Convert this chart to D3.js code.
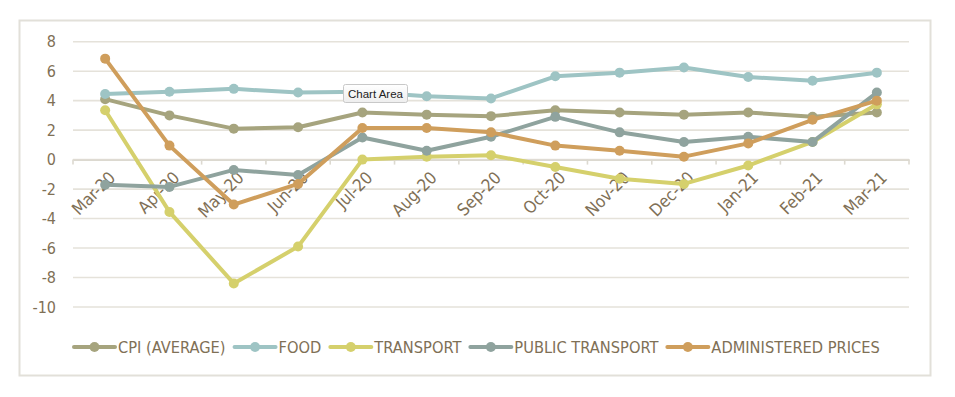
<!DOCTYPE html>
<html>
<head>
<meta charset="utf-8">
<script src="https://cdn.jsdelivr.net/npm/d3@7"></script>
<style>
  body { margin: 0; background: #fff; }
  svg { display: block; }
</style>
</head>
<body>
<script>
var width = 955, height = 397;

var months = ["Mar-20", "Apr-20", "May-20", "Jun-20", "Jul-20", "Aug-20", "Sep-20",
              "Oct-20", "Nov-20", "Dec-20", "Jan-21", "Feb-21", "Mar-21"];
var yTicks = [-10, -8, -6, -4, -2, 0, 2, 4, 6, 8];

var seriesNames = ["CPI (AVERAGE)", "FOOD", "TRANSPORT", "PUBLIC TRANSPORT", "ADMINISTERED PRICES"];
var seriesColors = ["#a6a47e", "#9ec4c4", "#d5d06c", "#8fa39e", "#cf9e5c"];

var cpi       = [4.1, 3.0, 2.1, 2.2, 3.2, 3.05, 2.95, 3.35, 3.2, 3.05, 3.2, 2.9, 3.2];
var food      = [4.45, 4.6, 4.8, 4.55, 4.6, 4.3, 4.15, 5.65, 5.9, 6.25, 5.6, 5.35, 5.9];
var transport = [3.35, -3.55, -8.4, -5.9, 0.0, 0.2, 0.3, -0.5, -1.3, -1.65, -0.4, 1.2, 3.75];
var publicTr  = [-1.7, -1.85, -0.7, -1.05, 1.5, 0.6, 1.55, 2.9, 1.85, 1.2, 1.55, 1.2, 4.55];
var admin     = [6.85, 0.95, -3.05, -1.65, 2.15, 2.15, 1.85, 0.95, 0.6, 0.2, 1.1, 2.7, 4.0];

var seriesValues = [cpi, food, transport, publicTr, admin];

var textColor = "#7f7056";
var gridColor = "#e5e2da";
var font = "'DejaVu Sans Condensed', 'DejaVu Sans', sans-serif";

var svg = d3.select("body").append("svg")
    .attr("width", width)
    .attr("height", height);

// chart area frame
svg.append("rect")
    .attr("x", 19.5).attr("y", 20.5)
    .attr("width", 911).attr("height", 355)
    .attr("fill", "#fff")
    .attr("stroke", "#e2e0d9")
    .attr("stroke-width", 2);

var x = d3.scaleBand().domain(months).range([73, 909]);
var y = d3.scaleLinear().domain([-10, 8]).range([307, 41.7]);
var cx = d => x(d) + x.bandwidth() / 2;

// gridlines
svg.append("g")
    .selectAll("line")
    .data(yTicks)
    .enter().append("line")
    .attr("x1", 73).attr("x2", 909)
    .attr("y1", d => y(d)).attr("y2", d => y(d))
    .attr("stroke", gridColor)
    .attr("stroke-width", 1.6);

// y axis labels
svg.append("g")
    .selectAll("text")
    .data(yTicks)
    .enter().append("text")
    .attr("x", 56)
    .attr("y", d => y(d))
    .attr("dy", "0.35em")
    .attr("text-anchor", "end")
    .attr("fill", textColor)
    .style("font-family", font)
    .style("font-size", "16px")
    .text(d => d);

// zero axis with ticks between categories
var xAxis = svg.append("g")
    .attr("transform", "translate(0," + y(0) + ")")
    .call(d3.axisBottom(x).tickSize(0).tickFormat(""));
xAxis.select(".domain").attr("stroke", "#dcd9d0").attr("stroke-width", 1.6);
xAxis.selectAll(".tick").remove();
xAxis.selectAll("line.sep")
    .data(months.concat([null]))
    .enter().append("line")
    .attr("class", "sep")
    .attr("x1", (d, i) => i < months.length ? x(d) : x(months[months.length - 1]) + x.bandwidth())
    .attr("x2", (d, i) => i < months.length ? x(d) : x(months[months.length - 1]) + x.bandwidth())
    .attr("y1", 0).attr("y2", 5)
    .attr("stroke", "#dcd9d0")
    .attr("stroke-width", 1.6);

// rotated month labels
svg.append("g")
    .selectAll("text")
    .data(months)
    .enter().append("text")
    .attr("transform", d => "translate(" + (cx(d) + 7) + "," + (y(0) + 15) + ") rotate(-45)")
    .attr("dy", "0.35em")
    .attr("text-anchor", "end")
    .attr("fill", textColor)
    .style("font-family", font)
    .style("font-size", "17px")
    .text(d => d);

// series lines and markers
var line = d3.line()
    .x((d, i) => cx(months[i]))
    .y(d => y(d));

seriesValues.forEach(function(vals, s) {
    var g = svg.append("g");
    g.append("path")
        .datum(vals)
        .attr("d", line)
        .attr("fill", "none")
        .attr("stroke", seriesColors[s])
        .attr("stroke-width", 4)
        .attr("stroke-linejoin", "round")
        .attr("stroke-linecap", "round");
    g.selectAll("circle")
        .data(vals)
        .enter().append("circle")
        .attr("cx", (d, i) => cx(months[i]))
        .attr("cy", d => y(d))
        .attr("r", 5)
        .attr("fill", seriesColors[s]);
});

// legend
var legend = svg.append("g").attr("transform", "translate(74,347)");
var lx = 0;
seriesNames.forEach(function(name, s) {
    var item = legend.append("g").attr("transform", "translate(" + lx + ",0)");
    item.append("line")
        .attr("x1", 0).attr("x2", 41)
        .attr("stroke", seriesColors[s])
        .attr("stroke-width", 4)
        .attr("stroke-linecap", "round");
    item.append("circle")
        .attr("cx", 20.5).attr("r", 5)
        .attr("fill", seriesColors[s]);
    var t = item.append("text")
        .attr("x", 44)
        .attr("dy", "0.35em")
        .attr("fill", textColor)
        .style("font-family", font)
        .style("font-size", "16.3px")
        .text(name);
    lx += 44 + t.node().getComputedTextLength() + 9;
});

// "Chart Area" hover tip
var tip = svg.append("g").attr("transform", "translate(343,84)");
var grad = svg.append("defs").append("linearGradient")
    .attr("id", "tipg").attr("x1", 0).attr("y1", 0).attr("x2", 0).attr("y2", 1);
grad.append("stop").attr("offset", 0).attr("stop-color", "#ffffff");
grad.append("stop").attr("offset", 1).attr("stop-color", "#eeeeee");
tip.append("rect")
    .attr("x", 0.5).attr("y", 0.5)
    .attr("width", 64).attr("height", 18)
    .attr("rx", 2)
    .attr("fill", "url(#tipg)")
    .attr("stroke", "#c8c8c8");
tip.append("text")
    .attr("x", 32.5).attr("y", 10)
    .attr("dy", "0.35em")
    .attr("text-anchor", "middle")
    .attr("fill", "#222")
    .style("font-family", "'Liberation Sans', Arial, sans-serif")
    .style("font-size", "11.5px")
    .text("Chart Area");
</script>
</body>
</html>
